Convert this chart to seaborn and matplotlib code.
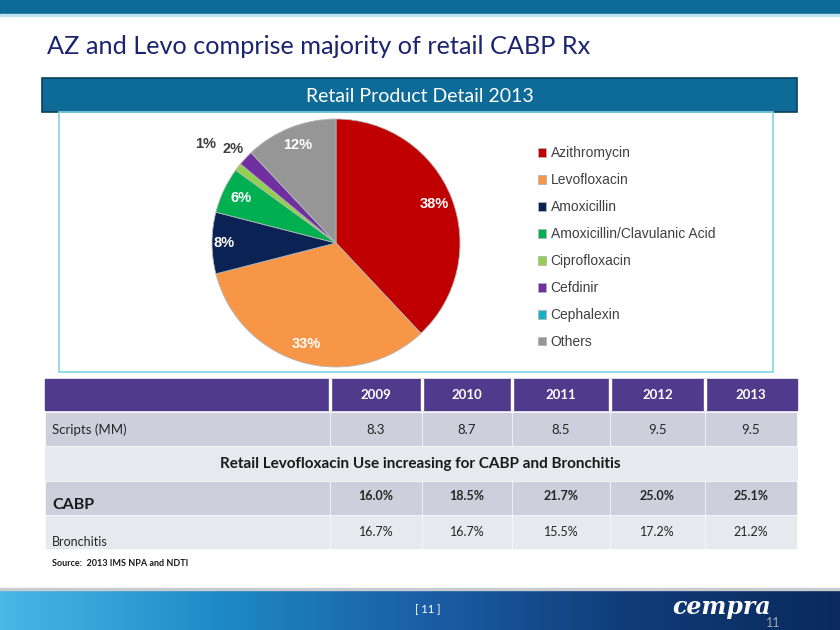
import numpy as np
import matplotlib.pyplot as plt
from matplotlib.patches import Rectangle
import seaborn as sns

# ---- data ----
drugs = ["Azithromycin", "Levofloxacin", "Amoxicillin", "Amoxicillin/Clavulanic Acid",
         "Ciprofloxacin", "Cefdinir", "Cephalexin", "Others"]
share_pct = [38, 33, 8, 6, 1, 2, 0, 12]
drug_colors = ["#C00000", "#F79646", "#0B2255", "#00B050",
               "#92D050", "#7030A0", "#17B0C8", "#969696"]

years = ["2009", "2010", "2011", "2012", "2013"]
scripts_mm = [8.3, 8.7, 8.5, 9.5, 9.5]
cabp_pct = [16.0, 18.5, 21.7, 25.0, 25.1]
bronchitis_pct = [16.7, 16.7, 15.5, 17.2, 21.2]

sns.set_theme(style="white")
plt.rcParams["font.family"] = ["Lato", "DejaVu Sans"]

W, H = 840, 630
fig = plt.figure(figsize=(8.4, 6.3), dpi=100)
bg = fig.add_axes([0, 0, 1, 1])
bg.set_xlim(0, W)
bg.set_ylim(H, 0)
bg.axis("off")

# top bar
bg.add_patch(Rectangle((0, 0), W, 14, color="#0C6B97"))
bg.add_patch(Rectangle((0, 14), W, 2, color="#BFE3EE"))
bg.text(47, 46, "AZ and Levo comprise majority of retail CABP Rx", fontsize=18.2,
        color="#1B2470", va="center", ha="left")

# section header
bg.add_patch(Rectangle((42, 78), 755, 34, facecolor="#0E6A96", edgecolor="#0A3F5C", lw=1.2))
bg.text(420, 96, "Retail Product Detail 2013", fontsize=14, color="white", ha="center", va="center")
bg.add_patch(Rectangle((59, 112), 714, 260, facecolor="none", edgecolor="#7FD6E2", lw=1.2))

# ---- pie ----
cx, cy, r = 336, 243, 124
pax = fig.add_axes([(cx - r) / W, 1 - (cy + r) / H, 2 * r / W, 2 * r / H])
wedges, _ = pax.pie(share_pct, colors=drug_colors, startangle=90, counterclock=False,
                    radius=1, wedgeprops=dict(edgecolor="#B5B5B5", linewidth=0.6))
pax.set_xlim(-1, 1)
pax.set_ylim(-1, 1)
pax.set_aspect("equal")

for w, pct in zip(wedges, share_pct):
    if pct == 0:
        continue
    ang = np.deg2rad((w.theta1 + w.theta2) / 2)
    if pct >= 5:
        rr = 0.85 if pct != 8 else 0.9
        pax.text(rr * np.cos(ang), rr * np.sin(ang), f"{pct}%", ha="center", va="center",
                 color="white", fontsize=10.5, fontweight="bold", family="Liberation Sans")
small = [(p, w) for p, w in zip(share_pct, wedges) if 0 < p < 5]
offsets = {1: (-1.05, 0.80), 2: (-0.83, 0.76)}
for p, w in small:
    x, y = offsets[p]
    pax.text(x, y, f"{p}%", ha="center", va="center", color="#404040",
             fontsize=10.5, fontweight="bold", family="Liberation Sans")

leg = fig.legend(wedges, drugs, loc="upper left", bbox_to_anchor=(525 / W, 1 - 134 / H),
                 frameon=False, handlelength=0.6, handleheight=0.6, handletextpad=0.35,
                 labelspacing=0.93, prop=dict(family="Liberation Sans", size=10))
for t in leg.get_texts():
    t.set_color("#404040")

# ---- table ----
col_edges = [45, 330, 422, 512, 610, 705, 797]
gap = 1.5
rows = [(379, 410, "#4F3A8B"), (413, 445, "#CFCEDD"), (447, 480, "#E8E8EF"),
        (482, 514, "#CFCEDD"), (516, 548, "#E8E8EF")]
for i, (top, bot, c) in enumerate(rows):
    if i in (0, 2):
        bg.add_patch(Rectangle((col_edges[0], top), col_edges[-1] - col_edges[0], bot - top, color=c))
        if i == 0:
            for xe in col_edges[1:-1]:
                bg.add_patch(Rectangle((xe - gap / 2, top), gap, bot - top, color="white"))
    else:
        for a, b in zip(col_edges[:-1], col_edges[1:]):
            bg.add_patch(Rectangle((a + gap / 2, top), b - a - gap, bot - top, color=c))

mids = [(a + b) / 2 for a, b in zip(col_edges[1:-1], col_edges[2:])]
for x, yr in zip(mids, years):
    bg.text(x, 395, yr, ha="center", va="center", color="white", fontsize=9.5, fontweight="bold")
bg.text(52, 430, "Scripts (MM)", ha="left", va="center", color="#262626", fontsize=9.5)
for x, v in zip(mids, scripts_mm):
    bg.text(x, 430, f"{v:.1f}", ha="center", va="center", color="#262626", fontsize=9.5)
bg.text(420, 464, "Retail Levofloxacin Use increasing for CABP and Bronchitis", ha="center",
        va="center", color="#1A1A1A", fontsize=11, fontweight="bold")
bg.text(52, 505, "CABP", ha="left", va="center", color="#1A1A1A", fontsize=11.5, fontweight="bold")
for x, v in zip(mids, cabp_pct):
    bg.text(x, 496, f"{v:.1f}%", ha="center", va="center", color="#262626", fontsize=9, fontweight="bold")
bg.text(52, 542, "Bronchitis", ha="left", va="center", color="#262626", fontsize=9)
for x, v in zip(mids, bronchitis_pct):
    bg.text(x, 532, f"{v:.1f}%", ha="center", va="center", color="#262626", fontsize=9)

bg.text(52, 563, "Source:  2013 IMS NPA and NDTI", ha="left", va="center", color="#1A1A1A",
        fontsize=6.5, fontweight="bold")

# ---- footer ----
grad = np.linspace(0, 1, 256).reshape(1, -1)
cmap = sns.blend_palette(["#48B8E6", "#1E8CC8", "#1B5FA8", "#103C78", "#0A2A5E"], as_cmap=True)
bg.imshow(grad, extent=(0, W, H, 590), aspect="auto", cmap=cmap, zorder=0)
bg.add_patch(Rectangle((0, 588), W, 2, color="#C8CCD0"))
bg.text(428, 610, "[ 11 ]", ha="center", va="center", color="white", fontsize=8)
bg.text(722, 607, "cempra", ha="center", va="center", color="white", fontsize=17,
        fontweight="bold", style="italic", family="DejaVu Serif")
bg.text(773, 623, "11", ha="center", va="center", color="#A0A8B0", fontsize=9)
bg.set_xlim(0, W)
bg.set_ylim(H, 0)

fig.savefig("out.png", dpi=100)
